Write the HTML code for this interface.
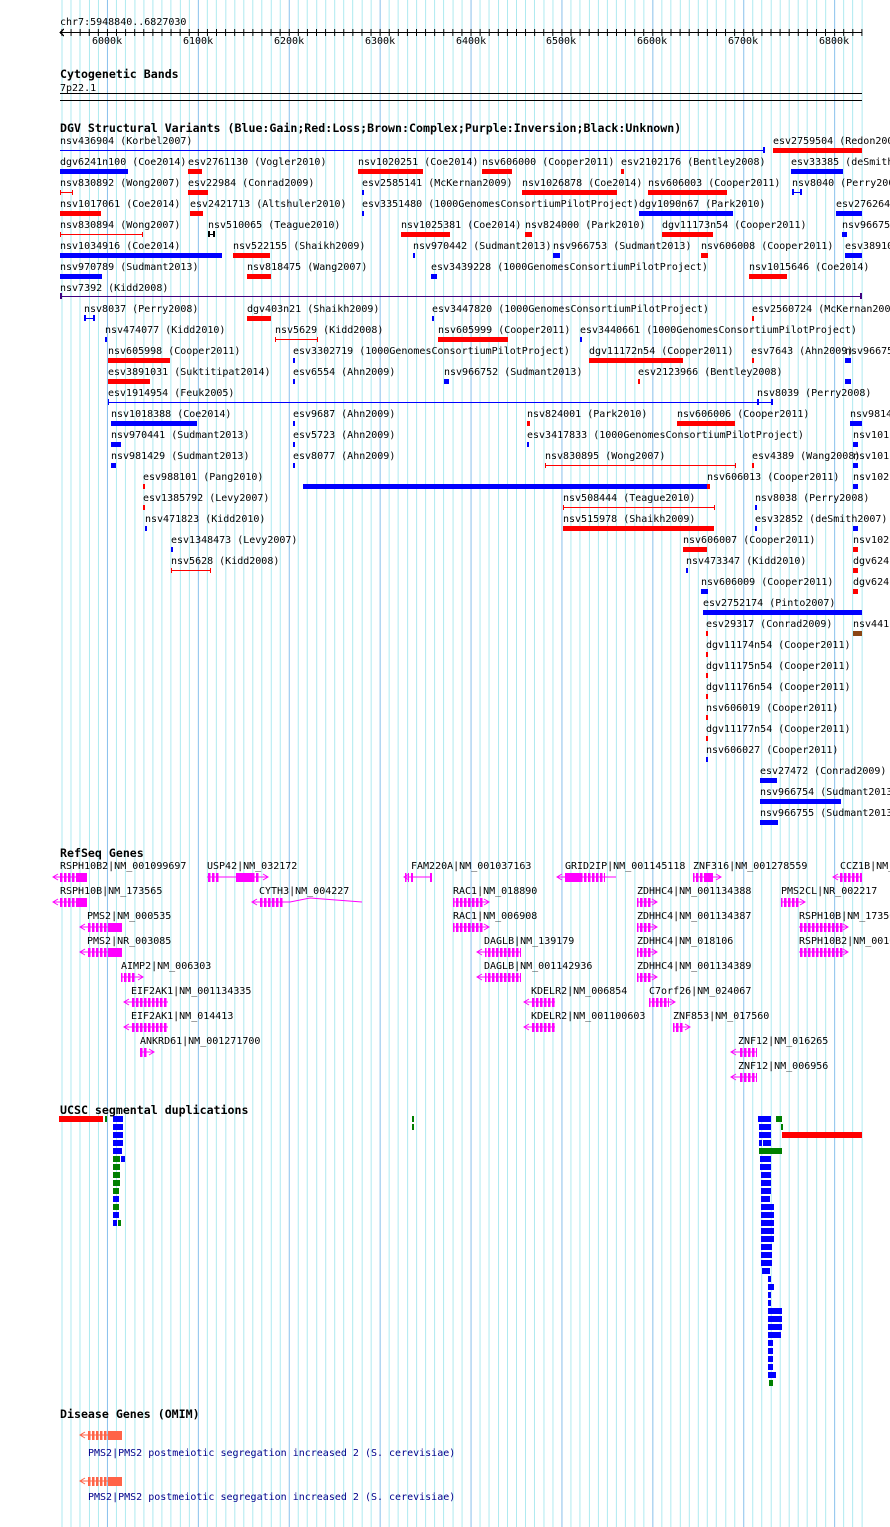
<!DOCTYPE html>
<html><head><meta charset="utf-8"><style>
html,body{margin:0;padding:0;background:#fff}
svg{display:block}
text{font-family:"DejaVu Sans Mono","Liberation Mono",monospace;font-size:10px;fill:#000}
.h{font-weight:bold;font-size:11.6px}
.B{fill:#0000ff}.R{fill:#ff0000}.G{fill:#008000}.M{fill:#ff00ff}
.ln{stroke-width:1;fill:none}
</style></head><body>
<svg width="890" height="1527" viewBox="0 0 890 1527" xmlns="http://www.w3.org/2000/svg" shape-rendering="crispEdges">
<defs>
<pattern id="grid" x="61.5" y="0" width="90.9" height="10" patternUnits="userSpaceOnUse">
<rect x="0" y="0" width="1" height="10" fill="#aeeaf0"/><rect x="9.09" y="0" width="1" height="10" fill="#aeeaf0"/><rect x="18.18" y="0" width="1" height="10" fill="#aeeaf0"/><rect x="27.27" y="0" width="1" height="10" fill="#aeeaf0"/><rect x="36.36" y="0" width="1" height="10" fill="#aeeaf0"/><rect x="45.45" y="0" width="1" height="10" fill="#88c0ec"/><rect x="54.54" y="0" width="1" height="10" fill="#aeeaf0"/><rect x="63.63" y="0" width="1" height="10" fill="#aeeaf0"/><rect x="72.72" y="0" width="1" height="10" fill="#aeeaf0"/><rect x="81.81" y="0" width="1" height="10" fill="#aeeaf0"/>
</pattern>
<pattern id="tk" x="61.5" y="0" width="9.09" height="10" patternUnits="userSpaceOnUse"><rect x="0" y="0" width="1" height="10" fill="#000"/></pattern>
<pattern id="ex" x="0" y="0" width="4" height="10" patternUnits="userSpaceOnUse"><rect x="0" y="0" width="2.5" height="10" fill="#ff00ff"/></pattern>
<pattern id="exo" x="0" y="0" width="4" height="10" patternUnits="userSpaceOnUse"><rect x="0" y="0" width="2.5" height="10" fill="#ff6347"/></pattern>
</defs>
<rect x="61" y="0" width="802" height="1527" fill="url(#grid)"/>

<text x="60" y="25">chr7:5948840..6827030</text>
<rect x="60" y="32" width="802" height="1" fill="#000"/>
<rect x="61" y="29" width="802" height="7" fill="url(#tk)"/>
<path d="M64 29 L60 32.5 L64 36" stroke="#000" fill="none"/>
<text x="92" y="44">6000k</text><text x="183" y="44">6100k</text><text x="274" y="44">6200k</text><text x="365" y="44">6300k</text><text x="456" y="44">6400k</text><text x="546" y="44">6500k</text><text x="637" y="44">6600k</text><text x="728" y="44">6700k</text><text x="819" y="44">6800k</text>

<text class="h" x="60" y="78">Cytogenetic Bands</text>
<text x="60" y="91">7p22.1</text>
<rect x="60" y="93" width="802" height="1" fill="#000"/>
<rect x="60" y="100" width="802" height="1" fill="#000"/>

<text class="h" x="60" y="132">DGV Structural Variants (Blue:Gain;Red:Loss;Brown:Complex;Purple:Inversion;Black:Unknown)</text>

<g>
<text x="60" y="144">nsv436904 (Korbel2007)</text><text x="773" y="144">esv2759504 (Redon2006)</text>
<text x="60" y="165">dgv6241n100 (Coe2014)</text><text x="188" y="165">esv2761130 (Vogler2010)</text><text x="358" y="165">nsv1020251 (Coe2014)</text><text x="482" y="165">nsv606000 (Cooper2011)</text><text x="621" y="165">esv2102176 (Bentley2008)</text><text x="791" y="165">esv33385 (deSmith2007)</text>
<text x="60" y="186">nsv830892 (Wong2007)</text><text x="188" y="186">esv22984 (Conrad2009)</text><text x="362" y="186">esv2585141 (McKernan2009)</text><text x="522" y="186">nsv1026878 (Coe2014)</text><text x="648" y="186">nsv606003 (Cooper2011)</text><text x="792" y="186">nsv8040 (Perry2008)</text>
<text x="60" y="207">nsv1017061 (Coe2014)</text><text x="190" y="207">esv2421713 (Altshuler2010)</text><text x="362" y="207">esv3351480 (1000GenomesConsortiumPilotProject)</text><text x="639" y="207">dgv1090n67 (Park2010)</text><text x="836" y="207">esv2762645</text>
<text x="60" y="228">nsv830894 (Wong2007)</text><text x="208" y="228">nsv510065 (Teague2010)</text><text x="401" y="228">nsv1025381 (Coe2014)</text><text x="525" y="228">nsv824000 (Park2010)</text><text x="662" y="228">dgv11173n54 (Cooper2011)</text><text x="842" y="228">nsv966751</text>
<text x="60" y="249">nsv1034916 (Coe2014)</text><text x="233" y="249">nsv522155 (Shaikh2009)</text><text x="413" y="249">nsv970442 (Sudmant2013)</text><text x="553" y="249">nsv966753 (Sudmant2013)</text><text x="701" y="249">nsv606008 (Cooper2011)</text><text x="845" y="249">esv3891031</text>
<text x="60" y="270">nsv970789 (Sudmant2013)</text><text x="247" y="270">nsv818475 (Wang2007)</text><text x="431" y="270">esv3439228 (1000GenomesConsortiumPilotProject)</text><text x="749" y="270">nsv1015646 (Coe2014)</text>
<text x="60" y="291">nsv7392 (Kidd2008)</text>
<text x="84" y="312">nsv8037 (Perry2008)</text><text x="247" y="312">dgv403n21 (Shaikh2009)</text><text x="432" y="312">esv3447820 (1000GenomesConsortiumPilotProject)</text><text x="752" y="312">esv2560724 (McKernan2009)</text>
<text x="105" y="333">nsv474077 (Kidd2010)</text><text x="275" y="333">nsv5629 (Kidd2008)</text><text x="438" y="333">nsv605999 (Cooper2011)</text><text x="580" y="333">esv3440661 (1000GenomesConsortiumPilotProject)</text>
<text x="108" y="354">nsv605998 (Cooper2011)</text><text x="293" y="354">esv3302719 (1000GenomesConsortiumPilotProject)</text><text x="589" y="354">dgv11172n54 (Cooper2011)</text><text x="751" y="354">esv7643 (Ahn2009)</text><text x="845" y="354">nsv966751</text>
<text x="108" y="375">esv3891031 (Suktitipat2014)</text><text x="293" y="375">esv6554 (Ahn2009)</text><text x="444" y="375">nsv966752 (Sudmant2013)</text><text x="638" y="375">esv2123966 (Bentley2008)</text>
<text x="108" y="396">esv1914954 (Feuk2005)</text><text x="757" y="396">nsv8039 (Perry2008)</text>
<text x="111" y="417">nsv1018388 (Coe2014)</text><text x="293" y="417">esv9687 (Ahn2009)</text><text x="527" y="417">nsv824001 (Park2010)</text><text x="677" y="417">nsv606006 (Cooper2011)</text><text x="850" y="417">nsv9814</text>
<text x="111" y="438">nsv970441 (Sudmant2013)</text><text x="293" y="438">esv5723 (Ahn2009)</text><text x="527" y="438">esv3417833 (1000GenomesConsortiumPilotProject)</text><text x="853" y="438">nsv101</text>
<text x="111" y="459">nsv981429 (Sudmant2013)</text><text x="293" y="459">esv8077 (Ahn2009)</text><text x="545" y="459">nsv830895 (Wong2007)</text><text x="752" y="459">esv4389 (Wang2008)</text><text x="853" y="459">nsv101</text>
<text x="143" y="480">esv988101 (Pang2010)</text><text x="707" y="480">nsv606013 (Cooper2011)</text><text x="853" y="480">nsv102</text>
<text x="143" y="501">esv1385792 (Levy2007)</text><text x="563" y="501">nsv508444 (Teague2010)</text><text x="755" y="501">nsv8038 (Perry2008)</text>
<text x="145" y="522">nsv471823 (Kidd2010)</text><text x="563" y="522">nsv515978 (Shaikh2009)</text><text x="755" y="522">esv32852 (deSmith2007)</text>
<text x="171" y="543">esv1348473 (Levy2007)</text><text x="683" y="543">nsv606007 (Cooper2011)</text><text x="853" y="543">nsv102</text>
<text x="171" y="564">nsv5628 (Kidd2008)</text><text x="686" y="564">nsv473347 (Kidd2010)</text><text x="853" y="564">dgv624</text>
<text x="701" y="585">nsv606009 (Cooper2011)</text><text x="853" y="585">dgv624</text>
<text x="703" y="606">esv2752174 (Pinto2007)</text>
<text x="706" y="627">esv29317 (Conrad2009)</text><text x="853" y="627">nsv441</text>
<text x="706" y="648">dgv11174n54 (Cooper2011)</text>
<text x="706" y="669">dgv11175n54 (Cooper2011)</text>
<text x="706" y="690">dgv11176n54 (Cooper2011)</text>
<text x="706" y="711">nsv606019 (Cooper2011)</text>
<text x="706" y="732">dgv11177n54 (Cooper2011)</text>
<text x="706" y="753">nsv606027 (Cooper2011)</text>
<text x="760" y="774">esv27472 (Conrad2009)</text>
<text x="760" y="795">nsv966754 (Sudmant2013)</text>
<text x="760" y="816">nsv966755 (Sudmant2013)</text>
</g>

<g>
<rect class="B" x="60" y="150" width="705" height="1"/><rect class="B" x="763" y="147" width="2" height="6"/>
<rect class="R" x="773" y="148" width="89" height="5"/>
<rect class="B" x="60" y="169" width="68" height="5"/><rect class="R" x="188" y="169" width="14" height="5"/><rect class="R" x="358" y="169" width="65" height="5"/><rect class="R" x="482" y="169" width="30" height="5"/><rect class="R" x="621" y="169" width="3" height="5"/><rect class="B" x="791" y="169" width="52" height="5"/>
<rect class="R" x="60" y="192" width="13" height="1"/><rect class="R" x="60" y="190" width="1" height="5"/><rect class="R" x="72" y="190" width="1" height="5"/><rect class="R" x="188" y="190" width="20" height="5"/><rect class="B" x="362" y="190" width="2" height="5"/><rect class="R" x="522" y="190" width="95" height="5"/><rect class="R" x="648" y="190" width="79" height="5"/><rect class="B" x="792" y="192" width="9" height="1"/><rect class="B" x="792" y="189" width="2" height="6"/><rect class="B" x="800" y="189" width="2" height="6"/>
<rect class="R" x="60" y="211" width="41" height="5"/><rect class="R" x="190" y="211" width="13" height="5"/><rect class="B" x="362" y="211" width="2" height="5"/><rect class="B" x="639" y="211" width="94" height="5"/><rect class="B" x="836" y="211" width="26" height="5"/>
<rect class="R" x="60" y="234" width="83" height="1"/><rect class="R" x="60" y="232" width="1" height="5"/><rect class="R" x="142" y="232" width="1" height="5"/><rect x="208" y="234" width="6" height="1"/><rect x="208" y="231" width="2" height="6"/><rect x="213" y="231" width="2" height="6"/><rect class="R" x="401" y="232" width="49" height="5"/><rect class="R" x="525" y="232" width="7" height="5"/><rect class="R" x="662" y="232" width="51" height="5"/><rect class="B" x="842" y="232" width="5" height="5"/>
<rect class="B" x="60" y="253" width="162" height="5"/><rect class="R" x="233" y="253" width="37" height="5"/><rect class="B" x="413" y="253" width="2" height="5"/><rect class="B" x="553" y="253" width="7" height="5"/><rect class="R" x="701" y="253" width="7" height="5"/><rect class="B" x="845" y="253" width="17" height="5"/>
<rect class="B" x="60" y="274" width="42" height="5"/><rect class="R" x="247" y="274" width="24" height="5"/><rect class="B" x="431" y="274" width="6" height="5"/><rect class="R" x="749" y="274" width="38" height="5"/>
<rect fill="#400080" x="60" y="296" width="802" height="1"/><rect fill="#400080" x="60" y="293" width="2" height="6"/><rect fill="#400080" x="860" y="293" width="2" height="6"/>
<rect class="B" x="84" y="318" width="11" height="1"/><rect class="B" x="84" y="315" width="2" height="6"/><rect class="B" x="93" y="315" width="2" height="6"/><rect class="R" x="247" y="316" width="24" height="5"/><rect class="B" x="432" y="316" width="2" height="5"/><rect class="R" x="752" y="316" width="2" height="5"/>
<rect class="B" x="105" y="337" width="2" height="5"/><rect class="R" x="275" y="339" width="43" height="1"/><rect class="R" x="275" y="337" width="1" height="5"/><rect class="R" x="317" y="337" width="1" height="5"/><rect class="R" x="438" y="337" width="70" height="5"/><rect class="B" x="580" y="337" width="2" height="5"/>
<rect class="R" x="108" y="358" width="62" height="5"/><rect class="B" x="293" y="358" width="2" height="5"/><rect class="R" x="589" y="358" width="94" height="5"/><rect class="R" x="752" y="358" width="2" height="5"/><rect class="B" x="845" y="358" width="6" height="5"/>
<rect class="R" x="108" y="379" width="42" height="5"/><rect class="B" x="293" y="379" width="2" height="5"/><rect class="B" x="444" y="379" width="5" height="5"/><rect class="R" x="638" y="379" width="2" height="5"/><rect class="B" x="845" y="379" width="6" height="5"/>
<rect class="B" x="108" y="402" width="665" height="1"/><rect class="B" x="108" y="399" width="1" height="6"/><rect class="B" x="757" y="399" width="2" height="6"/><rect class="B" x="771" y="399" width="2" height="6"/>
<rect class="B" x="111" y="421" width="86" height="5"/><rect class="B" x="293" y="421" width="2" height="5"/><rect class="R" x="527" y="421" width="3" height="5"/><rect class="R" x="677" y="421" width="58" height="5"/><rect class="B" x="850" y="421" width="12" height="5"/>
<rect class="B" x="111" y="442" width="10" height="5"/><rect class="B" x="293" y="442" width="2" height="5"/><rect class="B" x="527" y="442" width="2" height="5"/><rect class="B" x="853" y="442" width="5" height="5"/>
<rect class="B" x="111" y="463" width="5" height="5"/><rect class="B" x="293" y="463" width="2" height="5"/><rect class="R" x="545" y="465" width="191" height="1"/><rect class="R" x="545" y="463" width="1" height="5"/><rect class="R" x="735" y="463" width="1" height="5"/><rect class="R" x="752" y="463" width="2" height="5"/><rect class="B" x="853" y="463" width="5" height="5"/>
<rect class="R" x="143" y="484" width="2" height="5"/><rect class="B" x="303" y="484" width="404" height="5"/><rect class="R" x="707" y="484" width="3" height="5"/><rect class="B" x="853" y="484" width="5" height="5"/>
<rect class="R" x="143" y="505" width="2" height="5"/><rect class="R" x="563" y="507" width="152" height="1"/><rect class="R" x="563" y="505" width="1" height="5"/><rect class="R" x="714" y="505" width="1" height="5"/><rect class="B" x="755" y="505" width="2" height="5"/>
<rect class="B" x="145" y="526" width="2" height="5"/><rect class="R" x="563" y="526" width="151" height="5"/><rect class="B" x="755" y="526" width="2" height="5"/><rect class="B" x="853" y="526" width="5" height="5"/>
<rect class="B" x="171" y="547" width="2" height="5"/><rect class="R" x="683" y="547" width="24" height="5"/><rect class="R" x="853" y="547" width="5" height="5"/>
<rect class="R" x="171" y="570" width="40" height="1"/><rect class="R" x="171" y="568" width="1" height="5"/><rect class="R" x="210" y="568" width="1" height="5"/><rect class="B" x="686" y="568" width="2" height="5"/><rect class="R" x="853" y="568" width="5" height="5"/>
<rect class="B" x="701" y="589" width="7" height="5"/><rect class="R" x="853" y="589" width="5" height="5"/>
<rect class="B" x="703" y="610" width="159" height="5"/>
<rect class="R" x="706" y="631" width="2" height="5"/><rect fill="#8b4513" x="853" y="631" width="9" height="5"/>
<rect class="R" x="706" y="652" width="2" height="5"/>
<rect class="R" x="706" y="673" width="2" height="5"/>
<rect class="R" x="706" y="694" width="2" height="5"/>
<rect class="R" x="706" y="715" width="2" height="5"/>
<rect class="R" x="706" y="736" width="2" height="5"/>
<rect class="B" x="706" y="757" width="2" height="5"/>
<rect class="B" x="760" y="778" width="17" height="5"/>
<rect class="B" x="760" y="799" width="81" height="5"/>
<rect class="B" x="760" y="820" width="18" height="5"/>
</g>

<text class="h" x="60" y="857">RefSeq Genes</text>
<g>
<text x="60" y="869">RSPH10B2|NM_001099697</text><text x="207" y="869">USP42|NM_032172</text><text x="411" y="869">FAM220A|NM_001037163</text><text x="565" y="869">GRID2IP|NM_001145118</text><text x="693" y="869">ZNF316|NM_001278559</text><text x="840" y="869">CCZ1B|NM_015622</text>
<text x="60" y="894">RSPH10B|NM_173565</text><text x="259" y="894">CYTH3|NM_004227</text><text x="453" y="894">RAC1|NM_018890</text><text x="637" y="894">ZDHHC4|NM_001134388</text><text x="781" y="894">PMS2CL|NR_002217</text>
<text x="87" y="919">PMS2|NM_000535</text><text x="453" y="919">RAC1|NM_006908</text><text x="637" y="919">ZDHHC4|NM_001134387</text><text x="799" y="919">RSPH10B|NM_173565</text>
<text x="87" y="944">PMS2|NR_003085</text><text x="484" y="944">DAGLB|NM_139179</text><text x="637" y="944">ZDHHC4|NM_018106</text><text x="799" y="944">RSPH10B2|NM_001099697</text>
<text x="121" y="969">AIMP2|NM_006303</text><text x="484" y="969">DAGLB|NM_001142936</text><text x="637" y="969">ZDHHC4|NM_001134389</text>
<text x="131" y="994">EIF2AK1|NM_001134335</text><text x="531" y="994">KDELR2|NM_006854</text><text x="649" y="994">C7orf26|NM_024067</text>
<text x="131" y="1019">EIF2AK1|NM_014413</text><text x="531" y="1019">KDELR2|NM_001100603</text><text x="673" y="1019">ZNF853|NM_017560</text>
<text x="140" y="1044">ANKRD61|NM_001271700</text><text x="738" y="1044">ZNF12|NM_016265</text>
<text x="738" y="1069">ZNF12|NM_006956</text>
</g>
<g stroke="#ff00ff" fill="none" shape-rendering="auto">
<path d="M58 874 L53 877 L58 880 M53 877 H87"/><path d="M58 899 L53 902 L58 905 M53 902 H87"/>
<path d="M85 924 L80 927 L85 930 M80 927 H122"/><path d="M85 949 L80 952 L85 955 M80 952 H122"/>
<path d="M129 999 L124 1002 L129 1005 M124 1002 H168"/><path d="M129 1024 L124 1027 L129 1030 M124 1027 H168"/>
<path d="M409 874 L404 877 L409 880 M404 877 H432"/><path d="M562 874 L557 877 L562 880 M557 877 H616"/>
<path d="M838 874 L833 877 L838 880 M833 877 H862"/><path d="M257 899 L252 902 L257 905 M252 902 H290 L310 898 L362 902"/>
<path d="M482 949 L477 952 L482 955 M477 952 H521"/><path d="M482 974 L477 977 L482 980 M477 977 H521"/>
<path d="M529 999 L524 1002 L529 1005 M524 1002 H555"/><path d="M529 1024 L524 1027 L529 1030 M524 1027 H555"/>
<path d="M736 1049 L731 1052 L736 1055 M731 1052 H757"/><path d="M736 1074 L731 1077 L736 1080 M731 1077 H757"/>
<path d="M207 877 H268 M263 874 L268 877 L263 880"/><path d="M693 877 H721 M716 874 L721 877 L716 880"/>
<path d="M453 902 H489 M484 899 L489 902 L484 905"/><path d="M453 927 H489 M484 924 L489 927 L484 930"/>
<path d="M637 902 H657 M652 899 L657 902 L652 905"/><path d="M637 927 H657 M652 924 L657 927 L652 930"/><path d="M637 952 H657 M652 949 L657 952 L652 955"/><path d="M637 977 H657 M652 974 L657 977 L652 980"/>
<path d="M781 902 H805 M800 899 L805 902 L800 905"/><path d="M799 927 H848 M843 924 L848 927 L843 930"/><path d="M799 952 H848 M843 949 L848 952 L843 955"/>
<path d="M121 977 H143 M138 974 L143 977 L138 980"/><path d="M649 1002 H675 M670 999 L675 1002 L670 1005"/><path d="M673 1027 H690 M685 1024 L690 1027 L685 1030"/><path d="M140 1052 H154 M149 1049 L154 1052 L149 1055"/>
</g>
<g>
<rect fill="url(#ex)" x="60" y="873" width="20" height="9"/><rect class="M" x="78" y="873" width="9" height="9"/>
<rect fill="url(#ex)" x="60" y="898" width="20" height="9"/><rect class="M" x="78" y="898" width="9" height="9"/>
<rect fill="url(#ex)" x="88" y="923" width="22" height="9"/><rect class="M" x="110" y="923" width="12" height="9"/>
<rect fill="url(#ex)" x="88" y="948" width="22" height="9"/><rect class="M" x="110" y="948" width="12" height="9"/>
<rect fill="url(#ex)" x="121" y="973" width="14" height="9"/>
<rect fill="url(#ex)" x="132" y="998" width="36" height="9"/><rect fill="url(#ex)" x="132" y="1023" width="36" height="9"/>
<rect fill="url(#ex)" x="140" y="1048" width="8" height="9"/>
<rect fill="url(#ex)" x="207" y="873" width="12" height="9"/><rect class="M" x="236" y="873" width="16" height="9"/><rect fill="url(#ex)" x="252" y="873" width="8" height="9"/>
<rect fill="url(#ex)" x="259" y="898" width="24" height="9"/>
<rect fill="url(#ex)" x="405" y="873" width="4" height="9"/><rect class="M" x="411" y="873" width="2" height="9"/><rect class="M" x="430" y="873" width="2" height="9"/>
<rect fill="url(#ex)" x="565" y="873" width="40" height="9"/><rect class="M" x="566" y="873" width="14" height="9"/>
<rect fill="url(#ex)" x="693" y="873" width="20" height="9"/><rect class="M" x="706" y="873" width="6" height="9"/>
<rect fill="url(#ex)" x="840" y="873" width="22" height="9"/>
<rect fill="url(#ex)" x="453" y="898" width="30" height="9"/><rect fill="url(#ex)" x="453" y="923" width="30" height="9"/>
<rect fill="url(#ex)" x="485" y="948" width="36" height="9"/><rect fill="url(#ex)" x="485" y="973" width="36" height="9"/>
<rect fill="url(#ex)" x="532" y="998" width="23" height="9"/><rect fill="url(#ex)" x="532" y="1023" width="23" height="9"/>
<rect fill="url(#ex)" x="637" y="898" width="14" height="9"/><rect fill="url(#ex)" x="637" y="923" width="14" height="9"/><rect fill="url(#ex)" x="637" y="948" width="14" height="9"/><rect fill="url(#ex)" x="637" y="973" width="14" height="9"/>
<rect fill="url(#ex)" x="649" y="998" width="20" height="9"/><rect fill="url(#ex)" x="673" y="1023" width="10" height="9"/>
<rect fill="url(#ex)" x="781" y="898" width="18" height="9"/>
<rect fill="url(#ex)" x="799" y="923" width="44" height="9"/><rect fill="url(#ex)" x="799" y="948" width="44" height="9"/>
<rect fill="url(#ex)" x="739" y="1048" width="18" height="9"/><rect fill="url(#ex)" x="739" y="1073" width="18" height="9"/>
</g>

<text class="h" x="60" y="1114">UCSC segmental duplications</text>
<g>
<rect class="R" x="59" y="1116" width="44" height="6"/><rect class="G" x="105" y="1116" width="2" height="6"/>
<rect class="B" x="113" y="1116" width="10" height="6"/><rect class="B" x="113" y="1124" width="10" height="6"/><rect class="B" x="113" y="1132" width="10" height="6"/><rect class="B" x="113" y="1140" width="10" height="6"/><rect class="B" x="113" y="1148" width="9" height="6"/>
<rect class="G" x="113" y="1156" width="7" height="6"/><rect class="B" x="121" y="1156" width="4" height="6"/>
<rect class="G" x="113" y="1164" width="7" height="6"/><rect class="G" x="113" y="1172" width="7" height="6"/><rect class="G" x="113" y="1180" width="7" height="6"/><rect class="G" x="113" y="1188" width="6" height="6"/>
<rect class="B" x="113" y="1196" width="6" height="6"/><rect class="G" x="113" y="1204" width="6" height="6"/><rect class="B" x="113" y="1212" width="6" height="6"/>
<rect class="B" x="113" y="1220" width="4" height="6"/><rect class="G" x="118" y="1220" width="3" height="6"/>
<rect class="G" x="412" y="1116" width="2" height="6"/><rect class="G" x="412" y="1124" width="2" height="6"/>
<rect class="B" x="758" y="1116" width="13" height="6"/><rect class="G" x="776" y="1116" width="6" height="6"/>
<rect class="B" x="759" y="1124" width="12" height="6"/><rect class="G" x="781" y="1124" width="2" height="6"/>
<rect class="B" x="759" y="1132" width="12" height="6"/><rect class="R" x="782" y="1132" width="80" height="6"/>
<rect class="B" x="759" y="1140" width="3" height="6"/><rect class="B" x="763" y="1140" width="8" height="6"/>
<rect class="G" x="759" y="1148" width="23" height="6"/>
<rect class="B" x="760" y="1156" width="11" height="6"/><rect class="B" x="760" y="1164" width="11" height="6"/>
<rect class="B" x="761" y="1172" width="10" height="6"/><rect class="B" x="761" y="1180" width="10" height="6"/><rect class="B" x="761" y="1188" width="10" height="6"/><rect class="B" x="761" y="1196" width="9" height="6"/>
<rect class="B" x="761" y="1204" width="13" height="6"/><rect class="B" x="761" y="1212" width="13" height="6"/><rect class="B" x="761" y="1220" width="13" height="6"/><rect class="B" x="761" y="1228" width="13" height="6"/><rect class="B" x="761" y="1236" width="13" height="6"/>
<rect class="B" x="761" y="1244" width="11" height="6"/><rect class="B" x="761" y="1252" width="11" height="6"/><rect class="B" x="761" y="1260" width="11" height="6"/>
<rect class="B" x="762" y="1268" width="8" height="6"/>
<rect class="B" x="768" y="1276" width="3" height="6"/><rect class="B" x="768" y="1284" width="6" height="6"/><rect class="B" x="768" y="1292" width="3" height="6"/><rect class="B" x="768" y="1300" width="3" height="6"/>
<rect class="B" x="768" y="1308" width="14" height="6"/><rect class="B" x="768" y="1316" width="14" height="6"/><rect class="B" x="768" y="1324" width="14" height="6"/><rect class="B" x="768" y="1332" width="13" height="6"/>
<rect class="B" x="768" y="1340" width="5" height="6"/><rect class="B" x="768" y="1348" width="5" height="6"/><rect class="B" x="768" y="1356" width="5" height="6"/><rect class="B" x="768" y="1364" width="5" height="6"/>
<rect class="B" x="768" y="1372" width="8" height="6"/><rect class="G" x="769" y="1380" width="4" height="6"/>
</g>

<text class="h" x="60" y="1418">Disease Genes (OMIM)</text>
<g stroke="#ff6347" fill="none" shape-rendering="auto">
<path d="M85 1432 L80 1435 L85 1438 M80 1435 H122"/><path d="M85 1478 L80 1481 L85 1484 M80 1481 H122"/>
</g>
<rect fill="url(#exo)" x="88" y="1431" width="22" height="9"/><rect fill="#ff6347" x="110" y="1431" width="12" height="9"/>
<rect fill="url(#exo)" x="88" y="1477" width="22" height="9"/><rect fill="#ff6347" x="110" y="1477" width="12" height="9"/>
<text x="88" y="1456" style="fill:#00008b">PMS2|PMS2 postmeiotic segregation increased 2 (S. cerevisiae)</text>
<text x="88" y="1500" style="fill:#00008b">PMS2|PMS2 postmeiotic segregation increased 2 (S. cerevisiae)</text>
</svg>
</body></html>
